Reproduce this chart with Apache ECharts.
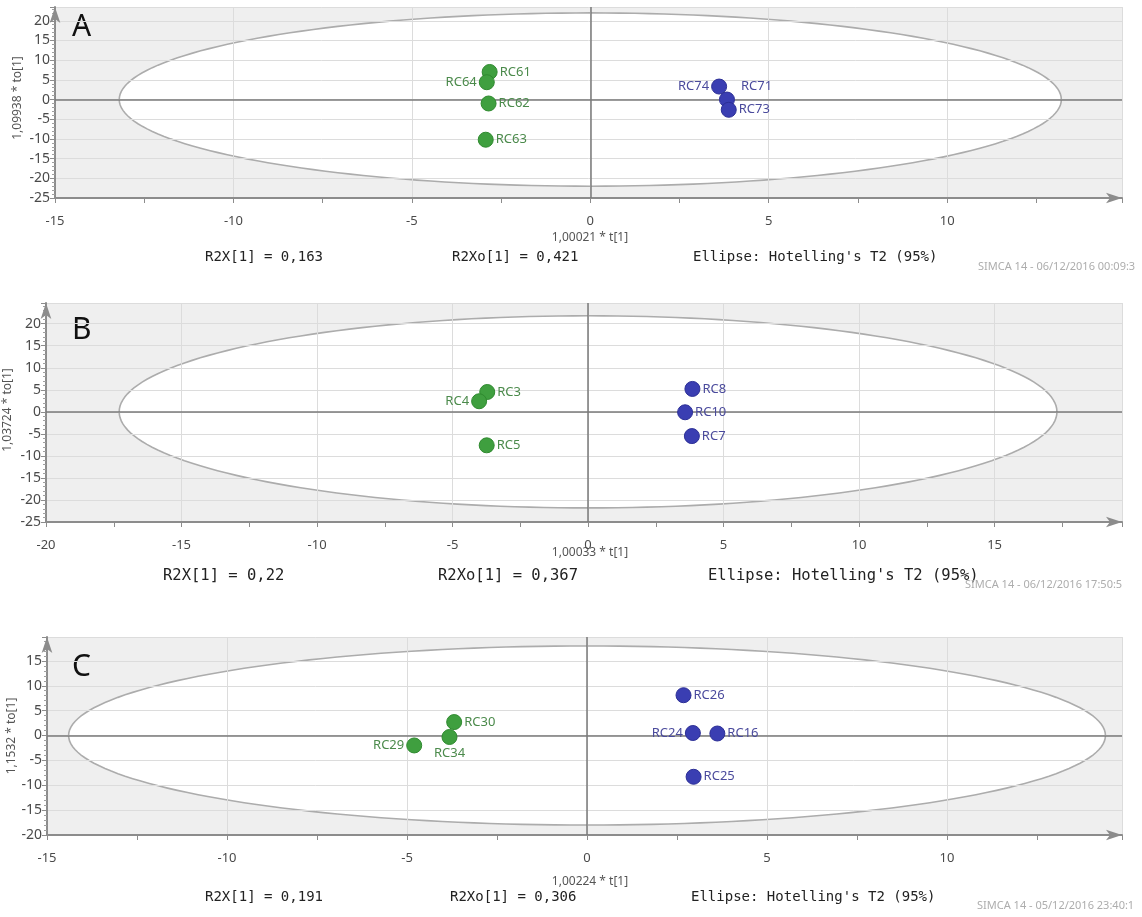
<!DOCTYPE html>
<html>
<head>
<meta charset="utf-8">
<script src="https://cdn.jsdelivr.net/npm/echarts@6/dist/echarts.min.js"></script>
<style>
  html, body { margin: 0; padding: 0; background: #fff; }
  #main { width: 1142px; height: 917px; }
</style>
</head>
<body>
<div id="main"></div>
<script>
// scores [t, to, name]
const greenA = [[-2.82, 7.0, 'RC61'], [-2.9, 4.4, 'RC64'], [-2.85, -1.0, 'RC62'], [-2.93, -10.2, 'RC63']];
const blueA = [[3.61, 3.3, 'RC74'], [3.83, 0.0, 'RC71'], [3.88, -2.6, 'RC73']];
const greenB = [[-3.72, 4.5, 'RC3'], [-4.02, 2.4, 'RC4'], [-3.74, -7.6, 'RC5']];
const blueB = [[3.85, 5.2, 'RC8'], [3.58, -0.1, 'RC10'], [3.83, -5.5, 'RC7']];
const greenC = [[-3.69, 2.7, 'RC30'], [-3.82, -0.3, 'RC34'], [-4.8, -2.0, 'RC29']];
const blueC = [[2.68, 8.1, 'RC26'], [2.94, 0.5, 'RC24'], [3.62, 0.4, 'RC16'], [2.96, -8.3, 'RC25']];

// Hotelling's T2 ellipse semi axes [t, to]
const ellipseA = [13.2, 22];
const ellipseB = [17.3, 21.8];
const ellipseC = [14.4, 18];

const letters = ['A', 'B', 'C'];
const xNames = ['1,00021 * t[1]', '1,00033 * t[1]', '1,00224 * t[1]'];
const yNames = ['1,09938 * to[1]', '1,03724 * to[1]', '1,1532 * to[1]'];
const r2x = ['R2X[1] = 0,163', 'R2X[1] = 0,22', 'R2X[1] = 0,191'];
const r2xo = ['R2Xo[1] = 0,421', 'R2Xo[1] = 0,367', 'R2Xo[1] = 0,306'];
const ellipseNote = "Ellipse: Hotelling's T2 (95%)";
const stamps = ['SIMCA 14 - 06/12/2016 00:09:3', 'SIMCA 14 - 06/12/2016 17:50:5', 'SIMCA 14 - 05/12/2016 23:40:1'];

const labelLeft = ['RC64', 'RC74', 'RC4', 'RC29', 'RC24'];

const GREEN = '#3f9f3f', BLUE = '#3a3eb2';

const layout = [
  { grid: { left: 55, top: 7, width: 1067, height: 191 }, x: [-15, 14.9], y: [-25, 23.5] },
  { grid: { left: 46, top: 303, width: 1076, height: 219 }, x: [-20, 19.7], y: [-25, 24.7] },
  { grid: { left: 47, top: 637, width: 1075, height: 198 }, x: [-15, 14.86], y: [-20, 19.8] }
];

const myChart = echarts.init(document.getElementById('main'), null, { renderer: 'canvas' });

function fiveOnly(v) {
  return Math.abs(v % 5) < 1e-6 ? String(v) : '';
}

function ellipseItem(params, api) {
  const a = api.value(0), b = api.value(1);
  const pts = [];
  for (let i = 0; i <= 200; i++) {
    const t = i / 200 * Math.PI * 2;
    pts.push(api.coord([a * Math.cos(t), b * Math.sin(t)]));
  }
  return {
    type: 'polygon',
    shape: { points: pts },
    style: { fill: '#ffffff', stroke: '#acacac', lineWidth: 1.6 }
  };
}

function pointData(list) {
  return list.map(p => {
    const d = { value: [p[0], p[1]], name: p[2] };
    if (labelLeft.indexOf(p[2]) >= 0) d.label = { position: 'left' };
    if (p[2] === 'RC34') d.label = { position: 'bottom', distance: 2 };
    if (p[2] === 'RC71') d.label = { position: 'right', offset: [4, -13] };
    return d;
  });
}

const grids = [], xAxes = [], yAxes = [], series = [];
const groups = [[greenA, blueA, ellipseA], [greenB, blueB, ellipseB], [greenC, blueC, ellipseC]];

layout.forEach((L, i) => {
  grids.push(Object.assign({ show: true, backgroundColor: '#efefef', borderWidth: 0 }, L.grid));
  xAxes.push({
    gridIndex: i, type: 'value', min: L.x[0], max: L.x[1], interval: 5, z: 3,
    axisLine: { onZero: false, lineStyle: { color: '#8c8c8c', width: 2 }, symbol: ['none', 'arrow'], symbolSize: [8, 16] },
    axisTick: { show: true, length: 5, lineStyle: { color: '#8c8c8c' } },
    minorTick: { show: true, splitNumber: 2, length: 5, lineStyle: { color: '#8c8c8c' } },
    axisLabel: { formatter: fiveOnly, showMaxLabel: false, color: '#4a4a4a', fontSize: 13, margin: 17, fontFamily: 'Noto Sans' },
    splitLine: { show: true, lineStyle: { color: '#dcdcdc', width: 1 } }
  });
  yAxes.push({
    gridIndex: i, type: 'value', min: L.y[0], max: L.y[1], interval: 5, z: 3,
    axisLine: { onZero: false, lineStyle: { color: '#8c8c8c', width: 2 }, symbol: ['none', 'arrow'], symbolSize: [8, 16] },
    axisTick: { show: true, length: 5, lineStyle: { color: '#8c8c8c' } },
    minorTick: { show: true, splitNumber: 5, length: 3, lineStyle: { color: '#a0a0a0' } },
    axisLabel: { formatter: fiveOnly, showMaxLabel: false, color: '#4a4a4a', fontSize: 14, margin: 5, fontFamily: 'Noto Sans' },
    splitLine: { show: true, lineStyle: { color: '#dcdcdc', width: 1 } }
  });
  const g = groups[i];
  series.push({
    type: 'custom', xAxisIndex: i, yAxisIndex: i, z: 1, silent: true,
    renderItem: ellipseItem, data: [g[2]]
  });
  [[g[0], GREEN, '#4b8a4b'], [g[1], BLUE, '#4a4a9c']].forEach((s, k) => {
    series.push({
      type: 'scatter', xAxisIndex: i, yAxisIndex: i, z: 6,
      symbolSize: 15,
      itemStyle: { color: s[1], borderColor: k === 0 ? '#2f8a2f' : '#2c2f96', borderWidth: 1, opacity: 1 },
      label: { show: true, position: 'right', distance: 2, formatter: '{b}', color: s[2], fontSize: 13, fontFamily: 'Noto Sans' },
      data: pointData(s[0]),
      markLine: k === 0 ? {
        silent: true, symbol: 'none', label: { show: false },
        lineStyle: { color: '#7a7a7a', width: 1.5, type: 'solid' },
        data: [{ yAxis: 0 }, { xAxis: 0 }]
      } : undefined
    });
  });
});

// texts around each panel
const letterY = [27, 330, 667];
const xNameY = [238, 553, 882];
const yNameX = [18, 8, 12];
const yNameY = [98, 410, 736];
const rowY = [257, 576, 897];
const rowX = [[205, 452, 693], [163, 438, 708], [205, 450, 691]];
const rowFont = [14, 15.5, 14];
const stampX = [978, 965, 977];
const stampY = [267, 585, 906];

const texts = [];
for (let i = 0; i < 3; i++) {
  texts.push({ type: 'text', x: 72, y: letterY[i], style: { text: letters[i], font: '30px "Noto Sans"', fill: '#111', textVerticalAlign: 'middle' } });
  texts.push({ type: 'text', x: 590, y: xNameY[i], style: { text: xNames[i], font: '12px "Noto Sans"', fill: '#555', textAlign: 'center', textVerticalAlign: 'middle' } });
  texts.push({ type: 'text', x: yNameX[i], y: yNameY[i], rotation: Math.PI / 2, style: { text: yNames[i], font: '12px "Noto Sans"', fill: '#555', textAlign: 'center', textVerticalAlign: 'middle' } });
  [r2x[i], r2xo[i], ellipseNote].forEach((t, k) => {
    texts.push({ type: 'text', x: rowX[i][k], y: rowY[i], style: { text: t, font: rowFont[i] + 'px "DejaVu Sans Mono"', fill: '#222', textVerticalAlign: 'middle' } });
  });
  texts.push({ type: 'text', x: stampX[i], y: stampY[i], style: { text: stamps[i], font: '11px "Noto Sans"', fill: '#adadad', textVerticalAlign: 'middle' } });
}

myChart.setOption({
  animation: false,
  grid: grids,
  xAxis: xAxes,
  yAxis: yAxes,
  series: series,
  graphic: { elements: texts }
});
</script>
</body>
</html>
